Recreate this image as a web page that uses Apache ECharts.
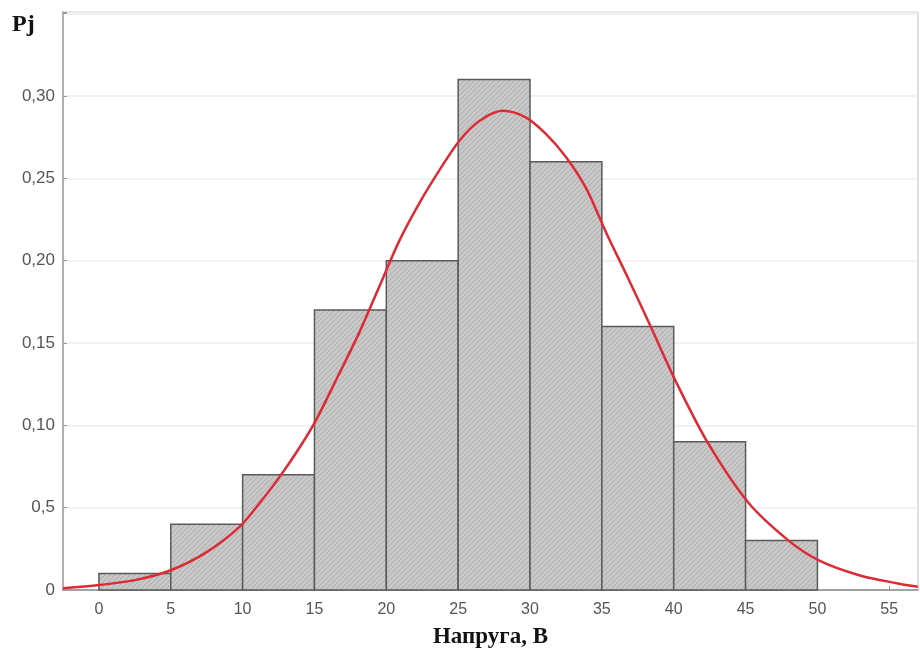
<!DOCTYPE html>
<html>
<head>
<meta charset="utf-8">
<title>Напруга</title>
<script src="https://cdn.jsdelivr.net/npm/echarts@6/dist/echarts.min.js"></script>
<style>
    html, body {margin: 0; padding: 0; background: #fff;}
    #chart {width: 920px; height: 656px;}
</style>
</head>
<body>
<div id="chart"></div>
<script>
// гістограма: початок інтервалу (ширина 5) і відносна частота
var binStarts = [0, 5, 10, 15, 20, 25, 30, 35, 40, 45];
var binWidth = 5;
var freqs = [0.01, 0.04, 0.07, 0.17, 0.20, 0.31, 0.26, 0.16, 0.09, 0.03];

// точки червоної кривої
var curveX = [-2.5, 0, 2.5, 5, 7.5, 9.8, 11.2, 12.6, 14.0, 15.1, 16.7, 18.1, 19.5, 20.9, 22.3, 23.7, 25.1, 26.5, 28.1, 29.7, 31.1, 32.5, 33.9, 35.3, 36.9, 38.5, 40.1, 42.4, 45.2, 48.0, 50.1, 52.9, 55.6, 57];
var curveY = [0.001, 0.003, 0.006, 0.012, 0.023, 0.0385, 0.053, 0.069, 0.087, 0.103, 0.131, 0.156, 0.184, 0.212, 0.235, 0.255, 0.273, 0.285, 0.291, 0.287, 0.277, 0.263, 0.244, 0.217, 0.188, 0.158, 0.1275, 0.089, 0.053, 0.030, 0.018, 0.009, 0.004, 0.002];

var xTicks = [0, 5, 10, 15, 20, 25, 30, 35, 40, 45, 50, 55];
var yTickLabels = ['0', '0,5', '0,10', '0,15', '0,20', '0,25', '0,30'];

var barData = [];
for (var i = 0; i < binStarts.length; i++) {
    barData.push([binStarts[i], binStarts[i] + binWidth, freqs[i]]);
}
var lineData = [];
for (var j = 0; j < curveX.length; j++) {
    lineData.push([curveX[j], curveY[j]]);
}

// штрихування стовпчиків
function hatch() {
    var c = document.createElement('canvas');
    c.width = 5;
    c.height = 5;
    var ctx = c.getContext('2d');
    ctx.fillStyle = '#c8c8c8';
    ctx.fillRect(0, 0, 5, 5);
    ctx.strokeStyle = 'rgba(120,120,120,0.35)';
    ctx.lineWidth = 1;
    ctx.beginPath();
    ctx.moveTo(0, 5);
    ctx.lineTo(5, 0);
    ctx.moveTo(-1, 1);
    ctx.lineTo(1, -1);
    ctx.moveTo(4, 6);
    ctx.lineTo(6, 4);
    ctx.stroke();
    return c;
}
var hatchImg = hatch();

function renderBar(params, api) {
    var p0 = api.coord([api.value(0), api.value(2)]);
    var p1 = api.coord([api.value(1), 0]);
    return {
        type: 'rect',
        shape: {x: p0[0], y: p0[1], width: p1[0] - p0[0], height: p1[1] - p0[1]},
        style: {
            fill: {image: hatchImg, repeat: 'repeat'},
            stroke: '#5a5a5a',
            lineWidth: 1.5
        }
    };
}

var myChart = echarts.init(document.getElementById('chart'));
var option = {
    animation: false,
    backgroundColor: '#fff',
    grid: {left: 63, right: 2, top: 12, bottom: 66, show: true, borderColor: '#bdbdbd', borderWidth: 1},
    xAxis: {
        type: 'value',
        min: -2.5,
        max: 57,
        name: 'Напруга, В',
        nameLocation: 'middle',
        nameGap: 36,
        nameTextStyle: {fontFamily: 'Liberation Serif', fontWeight: 'bold', fontSize: 23, color: '#111'},
        axisLine: {show: true, onZero: false, lineStyle: {color: '#8a8a8a', width: 1.5}},
        axisTick: {show: true, inside: true, length: 4, customValues: xTicks, lineStyle: {color: '#9a9a9a'}},
        axisLabel: {customValues: xTicks, margin: 12, fontFamily: 'Liberation Sans', fontSize: 16, color: '#555'},
        splitLine: {show: false}
    },
    yAxis: {
        type: 'value',
        min: 0,
        max: 0.351,
        interval: 0.05,
        axisLine: {show: true, onZero: false, lineStyle: {color: '#a0a0a0', width: 1.5}},
        axisTick: {show: true, inside: true, length: 4, lineStyle: {color: '#9a9a9a'}},
        axisLabel: {
            margin: 8,
            fontFamily: 'Liberation Sans',
            fontSize: 17,
            color: '#555',
            formatter: function (v) {
                var k = Math.round(v / 0.05);
                return k < yTickLabels.length ? yTickLabels[k] : '';
            }
        },
        splitLine: {show: true, lineStyle: {color: '#ececec', width: 1.5}}
    },
    graphic: [{
        type: 'text',
        left: 12,
        top: 13,
        style: {text: 'Pj', fontFamily: 'Liberation Serif', fontWeight: 'bold', fontSize: 24, fill: '#111'}
    }],
    series: [
        {
            type: 'custom',
            renderItem: renderBar,
            data: barData,
            encode: {x: [0, 1], y: 2},
            z: 2
        },
        {
            type: 'line',
            data: lineData,
            smooth: 0.3,
            showSymbol: false,
            lineStyle: {color: '#de2a35', width: 2.5},
            z: 3
        }
    ]
};

myChart.setOption(option);
</script>
</body>
</html>
